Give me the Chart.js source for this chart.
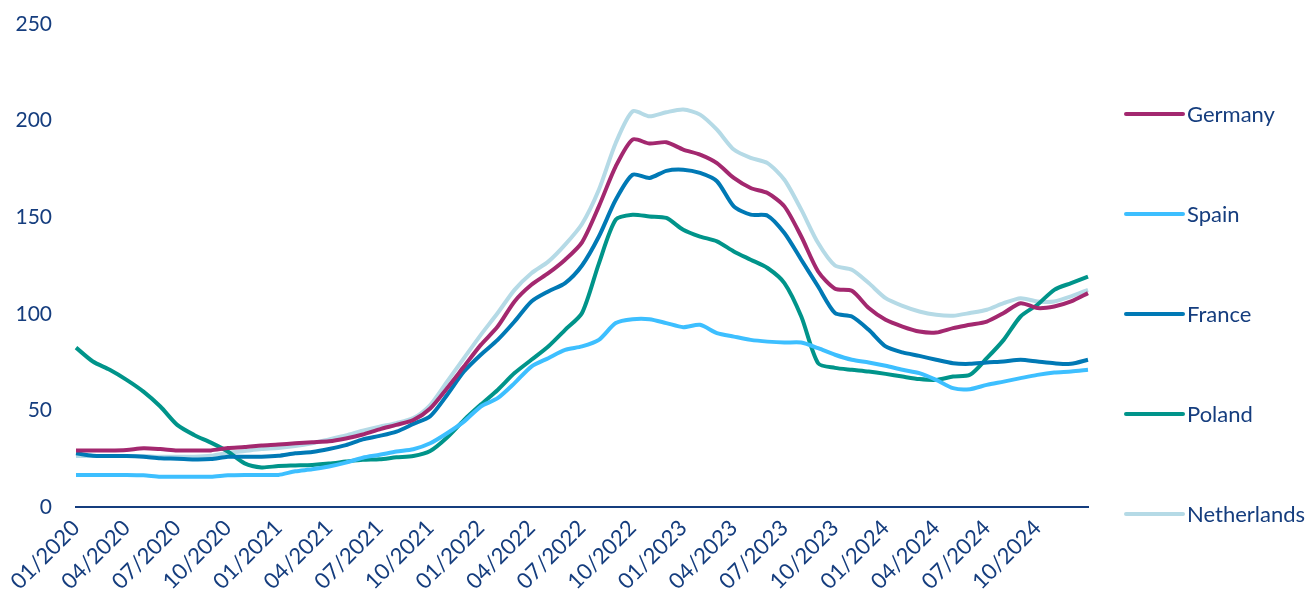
<!DOCTYPE html>
<html>
<head>
<meta charset="utf-8">
<style>
  html, body { margin: 0; padding: 0; background: #ffffff; }
  #wrap { width: 1310px; height: 599px; position: relative; }
</style>
<script src="https://cdn.jsdelivr.net/npm/chart.js@4.4.1/dist/chart.umd.min.js"></script>
</head>
<body>
<div id="wrap"><canvas id="chart" width="1310" height="599"></canvas></div>
<script>
// Monthly observations, January 2020 to January 2025
const months = [];
for (let y = 2020; y <= 2025; y++) {
  for (let m = 1; m <= 12; m++) {
    if (y === 2025 && m > 1) break;
    months.push((m < 10 ? '0' + m : '' + m) + '/' + y);
  }
}

const germany = [
  29.2, 29.2, 29.2, 29.5, 30.4, 30.0, 29.3, 29.2, 29.3, 30.5, 31.0, 31.8,
  32.3, 33.0, 33.5, 34.0, 35.5, 37.5, 40.2, 42.5, 45.0, 51.0, 61.5, 72.7,
  83.9, 93.4, 106.4, 115.0, 121.0, 128.0, 137.0, 155.6, 176.3, 190.2, 188.1, 188.8,
  185.0, 182.4, 178.0, 170.3, 165.1, 162.5, 155.6, 140.0, 121.9, 113.0, 111.9, 103.0,
  96.9, 93.4, 90.8, 90.3, 92.6, 94.3, 96.0, 100.4, 105.5, 103.0, 103.8, 106.4,
  110.7
];
const spain = [
  16.6, 16.6, 16.6, 16.6, 16.4, 15.7, 15.7, 15.7, 15.7, 16.4, 16.6, 16.6,
  16.6, 18.5, 19.5, 21.0, 23.0, 25.5, 27.0, 28.7, 29.9, 33.0, 38.2, 44.2,
  52.0, 56.3, 64.1, 72.7, 77.0, 81.3, 83.1, 86.5, 95.2, 97.2, 97.2, 95.2,
  93.1, 94.3, 90.0, 88.2, 86.5, 85.6, 85.1, 85.1, 82.2, 78.8, 76.2, 74.8,
  73.1, 71.0, 69.3, 65.8, 61.5, 61.0, 63.2, 64.9, 66.7, 68.4, 69.6, 70.1,
  71.0
];
const france = [
  27.8, 26.5, 26.4, 26.4, 26.0, 25.2, 25.0, 24.6, 24.8, 26.0, 26.0, 26.0,
  26.5, 27.8, 28.5, 30.0, 32.0, 35.0, 36.8, 39.0, 43.0, 47.0, 58.0, 70.1,
  78.8, 86.5, 96.0, 106.4, 111.6, 115.9, 125.0, 140.0, 159.0, 172.0, 170.3, 174.0,
  174.6, 172.9, 168.6, 155.6, 151.3, 150.8, 141.8, 128.0, 114.1, 100.4, 98.6, 91.7,
  83.1, 80.0, 78.2, 76.2, 74.4, 74.1, 74.8, 75.3, 76.2, 75.3, 74.4, 74.1,
  76.2
];
const poland = [
  82.5, 75.3, 71.0, 65.8, 59.7, 52.0, 42.5, 37.3, 33.3, 28.7, 22.6, 20.5,
  21.2, 21.5, 21.8, 22.5, 23.5, 24.4, 24.7, 25.7, 26.4, 29.0, 36.0, 45.0,
  53.0, 60.6, 69.3, 76.2, 83.1, 91.7, 100.4, 126.0, 148.7, 151.3, 150.4, 149.6,
  143.5, 140.0, 137.5, 132.3, 128.0, 123.7, 115.9, 98.6, 74.4, 72.0, 71.0, 70.1,
  68.9, 67.5, 66.2, 65.8, 67.5, 68.4, 77.0, 86.5, 98.6, 104.7, 112.4, 115.9,
  119.3
];
const netherlands = [
  26.4, 26.4, 26.4, 26.4, 26.4, 26.0, 26.0, 26.0, 26.5, 28.0, 29.0, 30.0,
  30.5, 31.5, 33.0, 35.0, 37.0, 39.5, 41.6, 43.4, 46.0, 52.8, 64.9, 77.0,
  89.1, 100.4, 112.4, 121.0, 127.0, 135.8, 146.5, 164.2, 188.4, 204.8, 202.2, 204.3,
  205.7, 203.1, 195.3, 185.0, 180.7, 178.0, 169.4, 153.9, 136.6, 125.0, 122.8, 115.9,
  108.1, 104.1, 101.2, 99.5, 99.0, 100.4, 102.1, 105.5, 108.1, 106.4, 106.4, 109.0,
  112.4
];

const seriesNames = ['Germany', 'Spain', 'France', 'Poland', 'Netherlands'];
const seriesValues = [germany, spain, france, poland, netherlands];
const seriesColors = ['#A3286F', '#3DBFFF', '#0079B5', '#00948A', '#B5DAE6'];

const navy = '#153D7E';
const fontFamily = 'Lato, "Open Sans", "Liberation Sans", sans-serif';

// Right-hand legend: one swatch line and label per series, spaced evenly
const sideLegend = {
  id: 'sideLegend',
  afterDraw(chart, args, opts) {
    const ctx = chart.ctx;
    ctx.save();
    ctx.font = opts.fontSize + 'px ' + fontFamily;
    ctx.textBaseline = 'middle';
    ctx.textAlign = 'left';
    chart.data.datasets.forEach((ds, i) => {
      const y = opts.top + i * opts.step;
      ctx.strokeStyle = ds.borderColor;
      ctx.lineWidth = 4;
      ctx.lineCap = 'round';
      ctx.beginPath();
      ctx.moveTo(opts.x, y);
      ctx.lineTo(opts.x + opts.lineLength, y);
      ctx.stroke();
      ctx.fillStyle = navy;
      ctx.fillText(ds.label, opts.x + opts.lineLength + 4, y + 1);
    });
    ctx.restore();
  }
};

new Chart(document.getElementById('chart'), {
  type: 'line',
  data: {
    labels: months,
    datasets: seriesNames.map((name, i) => ({
      label: name,
      data: seriesValues[i],
      borderColor: seriesColors[i],
      backgroundColor: seriesColors[i],
      borderWidth: 4,
      pointRadius: 0,
      tension: 0.25,
      fill: false
    }))
  },
  options: {
    responsive: false,
    animation: false,
    layout: { padding: { top: 24, right: 222, left: 0, bottom: 0 } },
    plugins: {
      legend: { display: false },
      tooltip: { enabled: false },
      sideLegend: { x: 1126, top: 114, step: 100, lineLength: 57, fontSize: 22 }
    },
    scales: {
      x: {
        type: 'category',
        offset: false,
        grid: { display: true, drawOnChartArea: false, drawTicks: false },
        border: { display: true, color: navy, width: 2 },
        ticks: {
          autoSkip: false,
          maxRotation: 45,
          minRotation: 45,
          padding: 8,
          color: navy,
          font: { family: fontFamily, size: 22 },
          callback: function (value, index) {
            return (index % 3 === 0 && index < months.length - 1) ? months[index] : '';
          }
        },
        afterFit: (scale) => { scale.height = 92; }
      },
      y: {
        min: 0,
        max: 250,
        grid: { display: false },
        border: { display: false },
        ticks: {
          stepSize: 50,
          padding: 16,
          color: navy,
          font: { family: fontFamily, size: 21, lineHeight: 1 }
        },
        afterFit: (scale) => { scale.width = 76; scale.paddingTop = 0; }
      }
    }
  },
  plugins: [sideLegend]
});
</script>
</body>
</html>
